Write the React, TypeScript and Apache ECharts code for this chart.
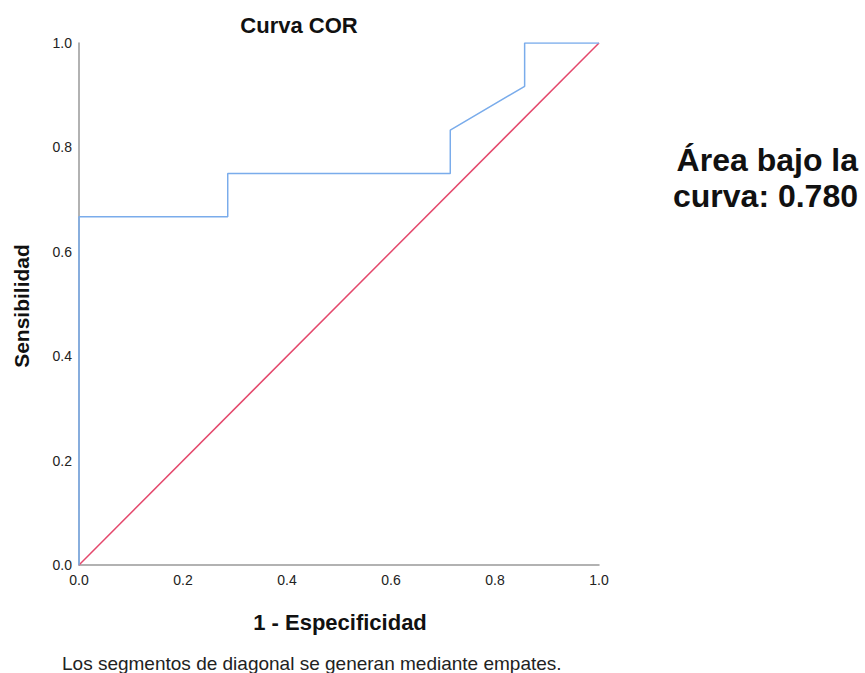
import React, { useEffect, useRef } from "react";
import * as echarts from "echarts";

const rocX = [0, 0, 0.286, 0.286, 0.714, 0.714, 0.857, 0.857, 1];
const rocY = [0, 0.667, 0.667, 0.75, 0.75, 0.833, 0.917, 1, 1];
const diagX = [0, 1];
const diagY = [0, 1];
const chartTitle = "Curva COR";
const xName = "1 - Especificidad";
const yName = "Sensibilidad";
const aucLines = ["Área bajo la", "curva: 0.780"];
const footnote = "Los segmentos de diagonal se generan mediante empates.";

export default function App() {
  const ref = useRef<HTMLDivElement>(null);
  useEffect(() => {
    if (!ref.current) return;
    const chart = echarts.init(ref.current, undefined, { renderer: "svg" });
    const font = "Liberation Sans, Arial, sans-serif";
    chart.setOption({
      animation: false,
      textStyle: { fontFamily: font },
      grid: { left: 79, right: 266, top: 43, bottom: 108 },
      xAxis: {
        type: "value",
        min: 0,
        max: 1,
        interval: 0.2,
        axisLine: { show: true, lineStyle: { color: "#999", width: 1.5 } },
        axisTick: { show: false },
        splitLine: { show: false },
        axisLabel: {
          color: "#222",
          fontSize: 14,
          fontFamily: font,
          margin: 8,
          formatter: (v: number) => v.toFixed(1),
        },
      },
      yAxis: {
        type: "value",
        min: 0,
        max: 1,
        interval: 0.2,
        axisLine: { show: true, lineStyle: { color: "#999", width: 1.5 } },
        axisTick: { show: false },
        splitLine: { show: false },
        axisLabel: {
          color: "#222",
          fontSize: 14,
          fontFamily: font,
          margin: 7,
          formatter: (v: number) => v.toFixed(1),
        },
      },
      series: [
        {
          type: "line",
          data: diagX.map((x, i) => [x, diagY[i]]),
          symbol: "none",
          lineStyle: { color: "#e4486c", width: 1.5 },
        },
        {
          type: "line",
          data: rocX.map((x, i) => [x, rocY[i]]),
          symbol: "none",
          lineStyle: { color: "#7aaceb", width: 1.5 },
        },
      ],
      graphic: [
        {
          type: "text",
          x: 299,
          y: 25,
          style: {
            text: chartTitle,
            fontSize: 22,
            fontWeight: "bold",
            fontFamily: font,
            fill: "#111",
            align: "center",
            verticalAlign: "middle",
          },
        },
        {
          type: "text",
          x: 340,
          y: 622,
          style: {
            text: xName,
            fontSize: 22,
            fontWeight: "bold",
            fontFamily: font,
            fill: "#111",
            align: "center",
            verticalAlign: "middle",
          },
        },
        {
          type: "text",
          x: 21,
          y: 306,
          rotation: Math.PI / 2,
          style: {
            text: yName,
            fontSize: 21,
            fontWeight: "bold",
            fontFamily: font,
            fill: "#111",
            align: "center",
            verticalAlign: "middle",
          },
        },
        {
          type: "text",
          x: 858,
          y: 160,
          style: {
            text: aucLines[0],
            fontSize: 32,
            fontWeight: "bold",
            fontFamily: font,
            fill: "#111",
            align: "right",
            verticalAlign: "middle",
          },
        },
        {
          type: "text",
          x: 858,
          y: 196,
          style: {
            text: aucLines[1],
            fontSize: 32,
            fontWeight: "bold",
            fontFamily: font,
            fill: "#111",
            align: "right",
            verticalAlign: "middle",
          },
        },
        {
          type: "text",
          x: 62,
          y: 663,
          style: {
            text: footnote,
            fontSize: 19,
            fontFamily: font,
            fill: "#222",
            align: "left",
            verticalAlign: "middle",
          },
        },
      ],
    });
    return () => chart.dispose();
  }, []);
  return (
    <div
      ref={ref}
      style={{ position: "fixed", left: 0, top: 0, width: 865, height: 673, background: "#fff" }}
    />
  );
}
